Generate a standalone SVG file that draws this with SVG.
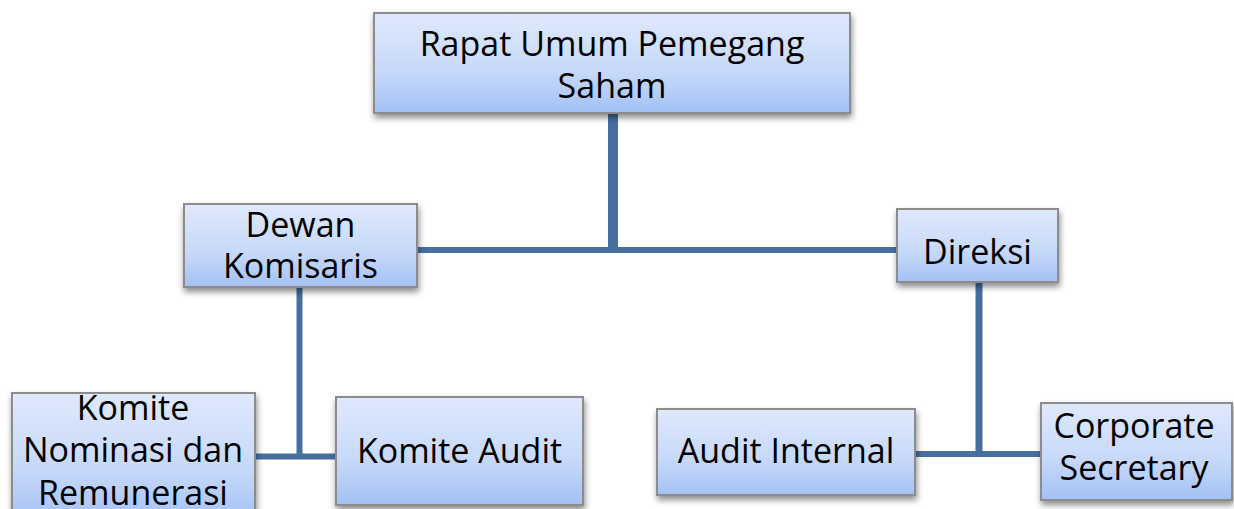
<svg xmlns="http://www.w3.org/2000/svg" width="1234" height="509" viewBox="0 0 1234 509">
<style>
.box{fill:url(#g);stroke:#8c8c8c;stroke-width:2;filter:url(#sh)}
.t{font-family:"Open Sans","Liberation Sans",sans-serif;font-size:34px;fill:#000;text-anchor:middle}
.c{stroke:#466e9f;fill:none;stroke-linecap:butt}
</style>
<defs>
<linearGradient id="g" x1="0" y1="0" x2="0" y2="1">
<stop offset="0" stop-color="#dfe9fc"/>
<stop offset="0.6" stop-color="#c6d8f9"/>
<stop offset="1" stop-color="#a3c1f4"/>
</linearGradient>
<filter id="sh" x="-10%" y="-10%" width="130%" height="140%">
<feDropShadow dx="1" dy="4" stdDeviation="3" flood-color="#000" flood-opacity="0.45"/>
</filter>
</defs>
<rect width="1234" height="509" fill="#fff"/>
<g id="connectors">
<line class="c" x1="613" y1="112" x2="613" y2="253" stroke-width="10"/>
<line class="c" x1="417" y1="250" x2="897" y2="250" stroke-width="6"/>
<line class="c" x1="299.5" y1="287" x2="299.5" y2="459" stroke-width="6"/>
<line class="c" x1="255" y1="456.5" x2="336" y2="456.5" stroke-width="6"/>
<line class="c" x1="979" y1="282" x2="979" y2="457" stroke-width="7"/>
<line class="c" x1="915" y1="454" x2="1041" y2="454" stroke-width="6"/>
</g>
<g id="rups">
<rect class="box" x="374" y="13" width="476" height="100"/>
<text class="t" x="612" y="56">Rapat Umum Pemegang</text>
<text class="t" x="612" y="98">Saham</text>
</g>
<g id="dewan">
<rect class="box" x="184" y="204" width="233" height="83"/>
<text class="t" x="300.5" y="237">Dewan</text>
<text class="t" x="300.5" y="278">Komisaris</text>
</g>
<g id="direksi">
<rect class="box" x="897" y="209" width="161" height="73"/>
<text class="t" x="977.5" y="264">Direksi</text>
</g>
<g id="komite-nominasi">
<rect class="box" x="12" y="393" width="243" height="130"/>
<text class="t" x="133" y="420">Komite</text>
<text class="t" x="133" y="462">Nominasi dan</text>
<text class="t" x="133" y="505">Remunerasi</text>
</g>
<g id="komite-audit">
<rect class="box" x="336" y="397" width="247" height="108"/>
<text class="t" x="459.5" y="463">Komite Audit</text>
</g>
<g id="audit-internal">
<rect class="box" x="657" y="409" width="258" height="86"/>
<text class="t" x="786" y="463">Audit Internal</text>
</g>
<g id="corporate-secretary">
<rect class="box" x="1041" y="403" width="191" height="97"/>
<text class="t" x="1134" y="438">Corporate</text>
<text class="t" x="1134" y="480">Secretary</text>
</g>
</svg>
